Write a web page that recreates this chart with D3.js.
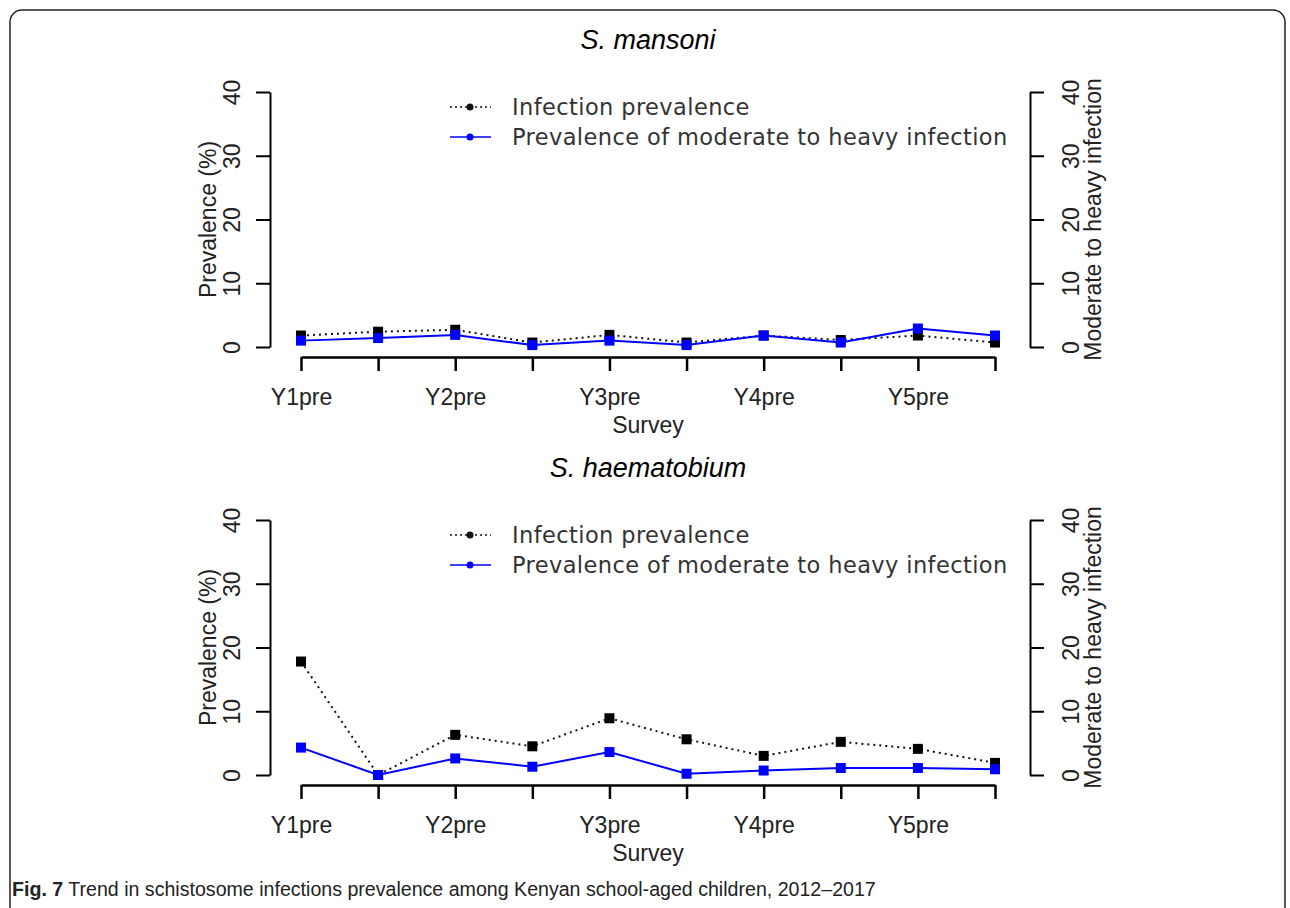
<!DOCTYPE html>
<html>
<head>
<meta charset="utf-8">
<script src="https://cdn.jsdelivr.net/npm/d3@7"></script>
<style>
  body { margin: 0; background: #fff; }
  svg { display: block; }
</style>
</head>
<body>
<svg id="chart"></svg>
<script>
// survey rounds (only the "pre" rounds get a printed label, like R drops overlapping ones)
const surveys = ["Y1pre", "Y1post", "Y2pre", "Y2post", "Y3pre", "Y3post", "Y4pre", "Y4post", "Y5pre", "Y5post"];
const labelledSurveys = ["Y1pre", "Y2pre", "Y3pre", "Y4pre", "Y5pre"];
const yTicks = [0, 10, 20, 30, 40];

// S. mansoni
const mansoniInfection = [1.8, 2.4, 2.7, 0.7, 1.9, 0.7, 1.8, 1.1, 1.8, 0.7];
const mansoniHeavy = [1.0, 1.4, 1.9, 0.3, 1.0, 0.3, 1.8, 0.7, 2.9, 1.8];

// S. haematobium
const haematobiumInfection = [17.8, 0.0, 6.3, 4.5, 8.9, 5.6, 3.0, 5.2, 4.1, 1.9];
const haematobiumHeavy = [4.3, 0.0, 2.6, 1.3, 3.6, 0.2, 0.7, 1.1, 1.1, 0.9];

const legendLabels = ["Infection prevalence", "Prevalence of moderate to heavy infection"];

const W = 1290, H = 908;
const svg = d3.select("#chart").attr("width", W).attr("height", H);

// rounded frame around the figure
svg.append("rect")
    .attr("x", 10).attr("y", 10)
    .attr("width", 1275).attr("height", 910)
    .attr("rx", 12)
    .attr("fill", "none")
    .attr("stroke", "#222")
    .attr("stroke-width", 1.5);

const axisFont = "Liberation Sans, Arial, sans-serif";

function drawPanel(offsetY, title, infection, heavy) {
    const g = svg.append("g").attr("transform", `translate(0, ${offsetY})`);

    const x = d3.scalePoint().domain(surveys).range([301, 995]);
    const y = d3.scaleLinear().domain([0, 40]).range([347, 92]);

    // title
    g.append("text")
        .attr("x", 648).attr("y", 49)
        .attr("text-anchor", "middle")
        .attr("font-family", axisFont)
        .attr("font-style", "italic")
        .attr("font-size", 27)
        .text(title);

    // left axis
    const leftAxis = g.append("g")
        .attr("transform", "translate(270, 0)")
        .call(d3.axisLeft(y).tickValues(yTicks).tickSize(14).tickSizeOuter(0).tickPadding(0));
    leftAxis.select(".domain").attr("stroke-width", 2);
    leftAxis.selectAll(".tick line").attr("stroke-width", 2);
    leftAxis.selectAll(".tick text")
        .attr("font-family", axisFont)
        .attr("font-size", 23)
        .attr("fill", "#222")
        .attr("text-anchor", "middle")
        .attr("transform", "translate(-38, 0) rotate(-90)")
        .attr("x", 0).attr("dy", "0.35em");

    // right axis
    const rightAxis = g.append("g")
        .attr("transform", "translate(1030, 0)")
        .call(d3.axisRight(y).tickValues(yTicks).tickSize(14).tickSizeOuter(0).tickPadding(0));
    rightAxis.select(".domain").attr("stroke-width", 2);
    rightAxis.selectAll(".tick line").attr("stroke-width", 2);
    rightAxis.selectAll(".tick text")
        .attr("font-family", axisFont)
        .attr("font-size", 23)
        .attr("fill", "#222")
        .attr("text-anchor", "middle")
        .attr("transform", "translate(41, 0) rotate(-90)")
        .attr("x", 0).attr("dy", "0.35em");

    // bottom axis
    const xAxis = g.append("g")
        .attr("transform", "translate(0, 357)")
        .call(d3.axisBottom(x).tickSize(14).tickSizeOuter(0).tickPadding(18)
            .tickFormat(d => labelledSurveys.includes(d) ? d : ""));
    xAxis.select(".domain").attr("stroke-width", 2.5);
    xAxis.selectAll(".tick line").attr("stroke-width", 2.5);
    xAxis.selectAll(".tick text")
        .attr("font-family", axisFont)
        .attr("font-size", 23)
        .attr("fill", "#222");

    // axis titles
    g.append("text")
        .attr("transform", "translate(216, 219.5) rotate(-90)")
        .attr("text-anchor", "middle")
        .attr("font-family", axisFont)
        .attr("font-size", 23)
        .attr("fill", "#222")
        .text("Prevalence (%)");
    g.append("text")
        .attr("transform", "translate(1101, 219.5) rotate(-90)")
        .attr("text-anchor", "middle")
        .attr("font-family", axisFont)
        .attr("font-size", 23)
        .attr("fill", "#222")
        .text("Moderate to heavy infection");
    g.append("text")
        .attr("x", 648).attr("y", 433)
        .attr("text-anchor", "middle")
        .attr("font-family", axisFont)
        .attr("font-size", 23)
        .attr("fill", "#222")
        .text("Survey");

    const line = d3.line().x((d, i) => x(surveys[i])).y(d => y(d));

    // infection prevalence: black dotted with squares
    g.append("path")
        .datum(infection)
        .attr("d", line)
        .attr("fill", "none")
        .attr("stroke", "#111")
        .attr("stroke-width", 2)
        .attr("stroke-dasharray", "2,4");
    g.selectAll(".sq-inf")
        .data(infection)
        .join("rect")
        .attr("class", "sq-inf")
        .attr("x", (d, i) => x(surveys[i]) - 5)
        .attr("y", d => y(d) - 5)
        .attr("width", 10).attr("height", 10)
        .attr("fill", "#000");

    // moderate to heavy: blue solid with squares
    g.append("path")
        .datum(heavy)
        .attr("d", line)
        .attr("fill", "none")
        .attr("stroke", "#0000ff")
        .attr("stroke-width", 2);
    g.selectAll(".sq-heavy")
        .data(heavy)
        .join("rect")
        .attr("class", "sq-heavy")
        .attr("x", (d, i) => x(surveys[i]) - 5)
        .attr("y", d => y(d) - 5)
        .attr("width", 10).attr("height", 10)
        .attr("fill", "#0000ff");

    // legend
    const legend = g.append("g");
    const styles = [
        { color: "#111", dash: "2,3" },
        { color: "#0000ff", dash: null }
    ];
    legendLabels.forEach((lab, i) => {
        const ly = 107 + i * 30;
        legend.append("line")
            .attr("x1", 450).attr("x2", 491)
            .attr("y1", ly).attr("y2", ly)
            .attr("stroke", styles[i].color)
            .attr("stroke-width", 1.5)
            .attr("stroke-dasharray", styles[i].dash);
        legend.append("circle")
            .attr("cx", 470).attr("cy", ly).attr("r", 3.5)
            .attr("fill", styles[i].color);
        legend.append("text")
            .attr("x", 512).attr("y", ly)
            .attr("dy", "0.35em")
            .attr("font-family", "DejaVu Sans, sans-serif")
            .attr("font-size", 22.5)
            .attr("letter-spacing", 0.4)
            .attr("fill", "#333")
            .text(lab);
    });
}

drawPanel(0, "S. mansoni", mansoniInfection, mansoniHeavy);
drawPanel(428, "S. haematobium", haematobiumInfection, haematobiumHeavy);

// caption
const caption = svg.append("text")
    .attr("x", 12).attr("y", 896)
    .attr("font-family", "Liberation Sans Narrow, Arial Narrow, sans-serif")
    .attr("font-size", 19.6)
    .attr("fill", "#222");
caption.append("tspan").attr("font-weight", "bold").text("Fig. 7");
caption.append("tspan").text(" Trend in schistosome infections prevalence among Kenyan school-aged children, 2012\u20132017");
</script>
</body>
</html>
